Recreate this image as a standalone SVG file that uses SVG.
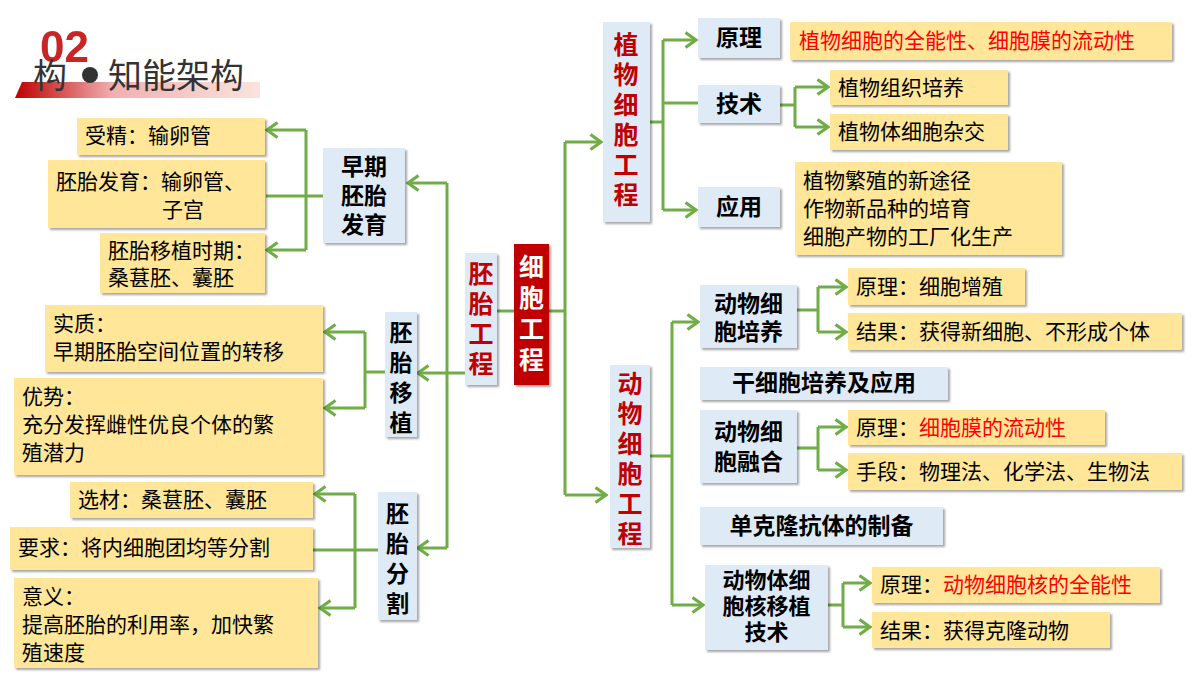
<svg xmlns="http://www.w3.org/2000/svg" width="1200" height="675" viewBox="0 0 1200 675">
<defs>
<linearGradient id="bar" x1="0" x2="1"><stop offset="0" stop-color="#c00000"/><stop offset="0.4" stop-color="#f0b0b0"/><stop offset="1" stop-color="#fbe3dc"/></linearGradient>
<filter id="sh" x="-10%" y="-10%" width="130%" height="130%"><feDropShadow dx="2" dy="2" stdDeviation="1.2" flood-color="#000" flood-opacity="0.35"/></filter>
<marker id="ar" viewBox="0 0 14 18" refX="12" refY="9" markerWidth="14" markerHeight="18" orient="auto" markerUnits="userSpaceOnUse">
<path d="M1.5,1.5 L12,9 L1.5,16.5" fill="none" stroke="#70ad47" stroke-width="3.2" stroke-linejoin="miter"/>
</marker>
<style>
.b{fill:#deebf7;filter:url(#sh)}
.y{fill:#ffe699;filter:url(#sh)}
.r{fill:#c00000;filter:url(#sh)}
text{font-family:"Noto Sans CJK SC","Noto Sans",sans-serif;font-size:21px;fill:#000}
.h{font-weight:bold;font-size:23px}
.h3{font-weight:bold;font-size:22px}
.rt{fill:#c00000;font-weight:bold;font-size:25px}
.red{fill:#ff0000}
.c path,.c line{stroke:#70ad47;stroke-width:3;fill:none}
.a{marker-end:url(#ar)}
</style>
</defs>
<rect width="1200" height="675" fill="#fff"/>
<g id="title">
<polygon points="22,82 260,82 260,98 15,98" fill="url(#bar)"/>
<text x="40" y="62" style="font-family:'Liberation Sans',sans-serif;font-size:44px;font-weight:bold;fill:#c00000;opacity:0.85">02</text>
<text x="33" y="88" style="font-size:34px;fill:#333">构</text>
<circle cx="90" cy="75" r="8" fill="#333"/>
<text x="108" y="88" style="font-size:34px;fill:#333">知能架构</text>
</g>
<g class="c" id="connectors">
<line x1="497" y1="311" x2="514" y2="311"/>
<line x1="549" y1="311" x2="565" y2="311"/>
<path d="M565,142 V495"/>
<path class="a" d="M565,142 H601"/><path class="a" d="M565,495 H606"/>
<line x1="465" y1="373" x2="447" y2="373"/>
<path d="M447,183 V548"/>
<path class="a" d="M447,183 H408"/><path class="a" d="M447,548 H418"/><path class="a" d="M447,373 H418"/>
<line x1="323" y1="196" x2="306" y2="196"/>
<path d="M306,130 V250"/>
<path class="a" d="M306,130 H267"/><path class="a" d="M306,250 H267"/><line x1="306" y1="196" x2="266" y2="196"/>
<line x1="385" y1="372" x2="365" y2="372"/>
<path d="M365,332 V408"/>
<path class="a" d="M365,332 H325"/><path class="a" d="M365,408 H325"/>
<line x1="378" y1="550" x2="355" y2="550"/>
<path d="M355,494 V608"/>
<path class="a" d="M355,494 H315"/><path class="a" d="M355,608 H320"/><line x1="355" y1="550" x2="313" y2="550"/>
<line x1="650" y1="122" x2="663" y2="122"/>
<path d="M663,40 V210"/>
<path class="a" d="M663,40 H696"/><path class="a" d="M663,210 H696"/><line x1="663" y1="103" x2="698" y2="103"/>
<line x1="780" y1="105" x2="795" y2="105"/>
<path d="M795,87 V127"/>
<path class="a" d="M795,87 H828"/><path class="a" d="M795,127 H828"/>
<line x1="650" y1="456" x2="672" y2="456"/>
<path d="M672,322 V605"/>
<path class="a" d="M672,322 H698"/><path class="a" d="M672,605 H703"/>
<line x1="797" y1="310" x2="818" y2="310"/>
<path d="M818,287 V332"/>
<path class="a" d="M818,287 H846"/><path class="a" d="M818,332 H846"/>
<line x1="797" y1="448" x2="818" y2="448"/>
<path d="M818,427 V470"/>
<path class="a" d="M818,427 H846"/><path class="a" d="M818,470 H846"/>
<line x1="828" y1="605" x2="843" y2="605"/>
<path d="M843,583 V627"/>
<path class="a" d="M843,583 H870"/><path class="a" d="M843,627 H870"/>
</g>
<g id="cell"><rect class="r" x="514" y="244" width="35" height="141"/>
<text x="531.5" y="276" text-anchor="middle" class="h" style="fill:#fff;font-size:25px">细</text><text x="531.5" y="307" text-anchor="middle" class="h" style="fill:#fff;font-size:25px">胞</text><text x="531.5" y="338" text-anchor="middle" class="h" style="fill:#fff;font-size:25px">工</text><text x="531.5" y="369" text-anchor="middle" class="h" style="fill:#fff;font-size:25px">程</text></g>
<g id="embryo"><rect class="b" x="465" y="253" width="32" height="132"/>
<text x="481" y="283" text-anchor="middle" class="rt">胚</text><text x="481" y="313" text-anchor="middle" class="rt">胎</text><text x="481" y="343" text-anchor="middle" class="rt">工</text><text x="481" y="373" text-anchor="middle" class="rt">程</text></g>
<g id="plant"><rect class="b" x="603" y="22" width="47" height="200"/>
<text x="626" y="54" text-anchor="middle" class="rt">植</text><text x="626" y="84" text-anchor="middle" class="rt">物</text><text x="626" y="114" text-anchor="middle" class="rt">细</text><text x="626" y="144" text-anchor="middle" class="rt">胞</text><text x="626" y="174" text-anchor="middle" class="rt">工</text><text x="626" y="204" text-anchor="middle" class="rt">程</text></g>
<g id="animal"><rect class="b" x="610" y="365" width="40" height="183"/>
<text x="630" y="393" text-anchor="middle" class="rt">动</text><text x="630" y="423" text-anchor="middle" class="rt">物</text><text x="630" y="453" text-anchor="middle" class="rt">细</text><text x="630" y="483" text-anchor="middle" class="rt">胞</text><text x="630" y="513" text-anchor="middle" class="rt">工</text><text x="630" y="543" text-anchor="middle" class="rt">程</text></g>
<g id="early"><rect class="b" x="323" y="148" width="82" height="95"/>
<text x="364" y="175" text-anchor="middle" class="h">早期</text><text x="364" y="204" text-anchor="middle" class="h">胚胎</text><text x="364" y="233" text-anchor="middle" class="h">发育</text></g>
<g id="transfer"><rect class="b" x="385" y="312" width="32" height="125"/>
<text x="401" y="341" text-anchor="middle" class="h">胚</text><text x="401" y="371" text-anchor="middle" class="h">胎</text><text x="401" y="401" text-anchor="middle" class="h">移</text><text x="401" y="431" text-anchor="middle" class="h">植</text></g>
<g id="split"><rect class="b" x="378" y="492" width="39" height="128"/>
<text x="397.5" y="522" text-anchor="middle" class="h">胚</text><text x="397.5" y="552" text-anchor="middle" class="h">胎</text><text x="397.5" y="582" text-anchor="middle" class="h">分</text><text x="397.5" y="612" text-anchor="middle" class="h">割</text></g>
<g id="l1"><rect class="y" x="77" y="118" width="188" height="37"/><text x="85" y="143">受精：输卵管</text></g>
<g id="l2"><rect class="y" x="48" y="160" width="217" height="68"/><text x="56" y="189">胚胎发育：输卵管、</text><text x="162" y="217">子宫</text></g>
<g id="l3"><rect class="y" x="100" y="233" width="165" height="60"/><text x="108" y="258">胚胎移植时期：</text><text x="108" y="285">桑葚胚、囊胚</text></g>
<g id="l4"><rect class="y" x="45" y="305" width="278" height="67"/><text x="53" y="331">实质：</text><text x="53" y="359">早期胚胎空间位置的转移</text></g>
<g id="l5"><rect class="y" x="14" y="378" width="309" height="97"/><text x="22" y="404">优势：</text><text x="22" y="432">充分发挥雌性优良个体的繁</text><text x="22" y="460">殖潜力</text></g>
<g id="l6"><rect class="y" x="70" y="482" width="243" height="36"/><text x="78" y="507">选材：桑葚胚、囊胚</text></g>
<g id="l7"><rect class="y" x="10" y="527" width="303" height="43"/><text x="18" y="555">要求：将内细胞团均等分割</text></g>
<g id="l8"><rect class="y" x="14" y="578" width="304" height="90"/><text x="22" y="604">意义：</text><text x="22" y="632">提高胚胎的利用率，加快繁</text><text x="22" y="660">殖速度</text></g>
<g id="p1"><rect class="b" x="698" y="18" width="82" height="40"/><text x="739" y="46" text-anchor="middle" class="h">原理</text></g>
<g id="p1y"><rect class="y" x="790" y="22" width="382" height="38"/><text x="799" y="48" class="red">植物细胞的全能性、细胞膜的流动性</text></g>
<g id="p2"><rect class="b" x="698" y="85" width="82" height="38"/><text x="739" y="112" text-anchor="middle" class="h">技术</text></g>
<g id="p2a"><rect class="y" x="830" y="70" width="178" height="35"/><text x="838" y="95">植物组织培养</text></g>
<g id="p2b"><rect class="y" x="830" y="114" width="178" height="36"/><text x="838" y="139">植物体细胞杂交</text></g>
<g id="p3"><rect class="b" x="698" y="187" width="82" height="40"/><text x="739" y="215" text-anchor="middle" class="h">应用</text></g>
<g id="p3y"><rect class="y" x="795" y="162" width="267" height="93"/><text x="803" y="188">植物繁殖的新途径</text><text x="803" y="216">作物新品种的培育</text><text x="803" y="244">细胞产物的工厂化生产</text></g>
<g id="a1"><rect class="b" x="700" y="285" width="97" height="63"/><text x="748.5" y="312" text-anchor="middle" class="h">动物细</text><text x="748.5" y="340" text-anchor="middle" class="h">胞培养</text></g>
<g id="a1a"><rect class="y" x="848" y="268" width="177" height="37"/><text x="856" y="294">原理：细胞增殖</text></g>
<g id="a1b"><rect class="y" x="848" y="313" width="334" height="37"/><text x="856" y="339">结果：获得新细胞、不形成个体</text></g>
<g id="a2"><rect class="b" x="700" y="367" width="248" height="33"/><text x="824" y="391" text-anchor="middle" class="h">干细胞培养及应用</text></g>
<g id="a3"><rect class="b" x="700" y="410" width="97" height="73"/><text x="748.5" y="440" text-anchor="middle" class="h">动物细</text><text x="748.5" y="470" text-anchor="middle" class="h">胞融合</text></g>
<g id="a3a"><rect class="y" x="848" y="410" width="257" height="35"/><text x="856" y="435">原理：<tspan class="red">细胞膜的流动性</tspan></text></g>
<g id="a3b"><rect class="y" x="848" y="453" width="334" height="37"/><text x="856" y="479">手段：物理法、化学法、生物法</text></g>
<g id="a4"><rect class="b" x="700" y="507" width="243" height="38"/><text x="821.5" y="534" text-anchor="middle" class="h">单克隆抗体的制备</text></g>
<g id="a5"><rect class="b" x="705" y="565" width="123" height="85"/><text x="766.5" y="588" text-anchor="middle" class="h3">动物体细</text><text x="766.5" y="614" text-anchor="middle" class="h3">胞核移植</text><text x="766.5" y="640" text-anchor="middle" class="h3">技术</text></g>
<g id="a5a"><rect class="y" x="872" y="567" width="288" height="36"/><text x="880" y="592">原理：<tspan class="red">动物细胞核的全能性</tspan></text></g>
<g id="a5b"><rect class="y" x="872" y="612" width="238" height="36"/><text x="880" y="638">结果：获得克隆动物</text></g>
</svg>
